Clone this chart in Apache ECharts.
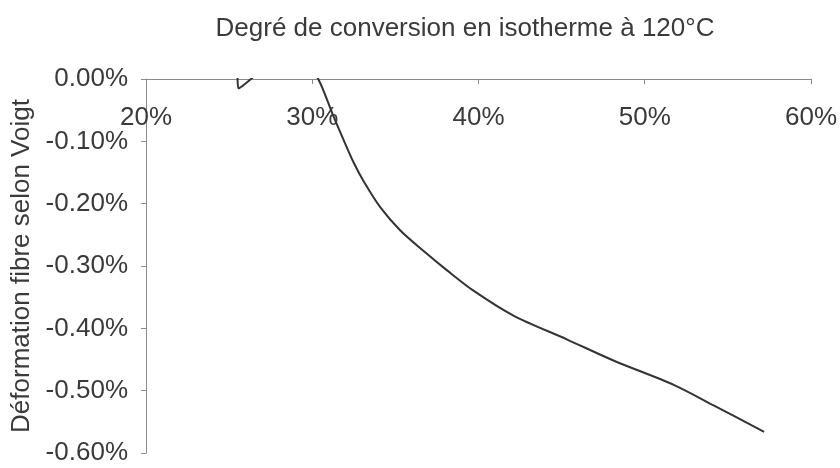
<!DOCTYPE html>
<html>
<head>
<meta charset="utf-8">
<script src="https://cdn.jsdelivr.net/npm/echarts@6/dist/echarts.min.js"></script>
<style>html,body{margin:0;padding:0;background:#fff}#c{width:840px;height:468px}</style>
</head>
<body>
<div id="c"></div>
<script>
// Degré de conversion (%) vs Déformation fibre selon Voigt (%)
const conversion = [25.50, 25.56, 26.40, 27.5, 29.5, 30.36, 31.28, 31.89, 32.49, 33.09, 34.10, 35.30, 36.70, 38.11, 39.72, 42.13, 45.34, 48.15, 51.77, 54.17, 57.18];
const deformation = [0.010, -0.015, 0.002, 0.03, 0.03, 0.000, -0.060, -0.098, -0.134, -0.164, -0.206, -0.243, -0.276, -0.307, -0.340, -0.380, -0.418, -0.452, -0.491, -0.524, -0.566];
const xTicks = [20, 30, 40, 50, 60];
const yTicks = [0, -0.1, -0.2, -0.3, -0.4, -0.5, -0.6];

const chart = echarts.init(document.getElementById('c'));
const txt = '#3a3a3a';
const font = 'Liberation Sans, Arial, sans-serif';
chart.setOption({
  animation: false,
  title: {
    text: 'Degré de conversion en isotherme à 120°C',
    left: 460, top: 11, textAlign: 'center',
    textStyle: {fontFamily: font, fontSize: 26, fontWeight: 'normal', color: txt}
  },
  grid: {left: 146, right: 29, top: 79, bottom: 15},
  xAxis: {
    type: 'value', position: 'top',
    min: xTicks[0], max: xTicks[xTicks.length - 1], interval: 10,
    axisLine: {lineStyle: {color: '#8a8a8a', width: 1}},
    axisTick: {show: true, inside: true, length: 5, lineStyle: {color: '#8a8a8a'}},
    splitLine: {show: false},
    axisLabel: {inside: true, margin: 26, fontFamily: font, fontSize: 26, color: txt,
      formatter: v => v + '%'}
  },
  yAxis: {
    type: 'value',
    min: yTicks[yTicks.length - 1], max: yTicks[0], interval: 0.1,
    name: 'Déformation fibre selon Voigt',
    nameLocation: 'middle', nameGap: 110,
    nameTextStyle: {fontFamily: font, fontSize: 26, color: txt},
    axisLine: {show: true, lineStyle: {color: '#8a8a8a', width: 1}},
    axisTick: {show: true, length: 5, lineStyle: {color: '#8a8a8a'}},
    splitLine: {show: false},
    axisLabel: {margin: 18, fontFamily: font, fontSize: 26, color: txt,
      formatter: v => v.toFixed(2) + '%'}
  },
  series: [{
    type: 'line', smooth: 0.3, showSymbol: false, clip: true,
    lineStyle: {color: '#333', width: 2},
    data: conversion.map((x, i) => [x, deformation[i]])
  }]
});
</script>
</body>
</html>
